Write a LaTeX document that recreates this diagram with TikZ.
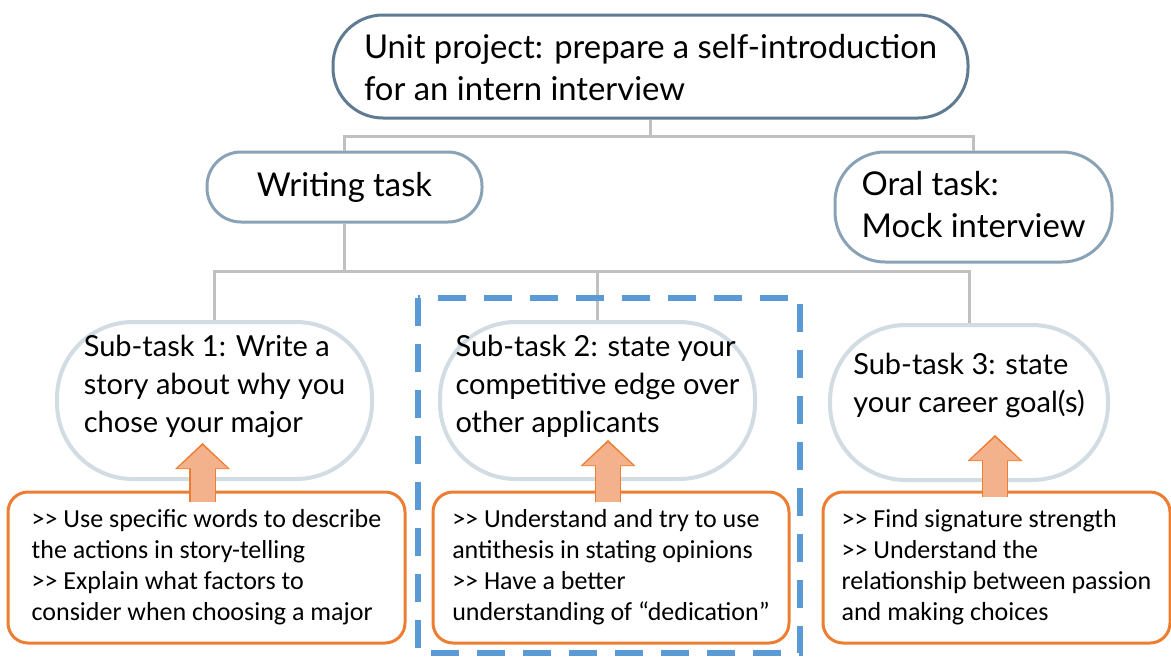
\documentclass[tikz,border=0pt]{standalone}
\usepackage{fontspec}
\setmainfont{Lato}
\newfontfamily\notefont{Carlito}
\usetikzlibrary{positioning,calc,arrows.meta}

\definecolor{topline}{RGB}{95,123,147}
\definecolor{midline}{RGB}{138,162,181}
\definecolor{subline}{RGB}{210,220,227}
\definecolor{linkgray}{RGB}{192,192,192}
\definecolor{noteorange}{RGB}{237,125,49}
\definecolor{arrowfill}{RGB}{244,178,140}
\definecolor{frameblue}{RGB}{91,155,213}

\begin{document}
\begin{tikzpicture}[x=0.5pt, y=-0.5pt,
  task/.style={draw=midline, line width=1.5pt, fill=white, align=left,
    rounded corners=17pt, inner ysep=0pt, font=\fontsize{16.4}{21}\selectfont},
  subtask/.style={draw=subline, line width=2pt, fill=white, align=left,
    rounded corners=38pt, inner ysep=0pt, font=\fontsize{14.5}{19}\selectfont},
  note/.style={draw=noteorange, line width=1.5pt, fill=white, align=left,
    rounded corners=10pt, minimum height=75.5pt, font=\notefont\fontsize{13}{15.5}\selectfont},
  link/.style={draw=linkgray, line width=1.5pt},
  fat/.style={draw=arrowfill, line width=12pt, shorten >=1.2pt,
    -{Triangle[width=25pt, length=11.5pt, line width=0pt]},
    preaction={draw=noteorange, line width=13.2pt, shorten >=0pt,
      -{Triangle[width=27.5pt, length=13pt, line width=0pt]}}},
  frame/.style={draw=frameblue, line width=3pt, dash pattern=on 14pt off 9pt}
]
  \useasboundingbox (0,0) rectangle (1171,659);

  % Define nodes
  \node[task, draw=topline, rounded corners=25pt, minimum width=317.5pt,
    text height=42.5pt, text depth=9pt] (unit) at (650.5,66.5)
    {Unit project: prepare a self-introduction\\for an intern interview};
  \node[task, minimum width=137.5pt, minimum height=35pt] (wt) at (344.5,187) {Writing task};
  \node[task, rounded corners=25pt, minimum width=138.5pt,
    text height=42.5pt, text depth=12.5pt] (ot) at (973.5,207) {Oral task:\\Mock interview};

  \node[subtask, minimum width=157.5pt, text height=55pt, text depth=23.5pt] (st1) at (214.5,400.5)
    {Sub-task 1: Write a\\story about why you\\chose your major};
  \node[subtask, minimum width=157.5pt, text height=55pt, text depth=23.5pt] (st2) at (597.5,400.5)
    {Sub-task 2: state your\\competitive edge over\\other applicants};
  \node[subtask, minimum width=139pt, text height=43.5pt, text depth=34pt] (st3) at (969,402.5)
    {Sub-task 3: state\\your career goal(s)};

  \node[note, minimum width=198.5pt] (b1) at (206.5,567.5)
    {>{}> Use specific words to describe\\the actions in story-telling\\>{}> Explain what factors to\\consider when choosing a major};
  \node[note, minimum width=178pt] (b2) at (611,567.5)
    {>{}> Understand and try to use\\antithesis in stating opinions\\>{}> Have a better\\understanding of “dedication”};
  \node[note, minimum width=173.5pt] (b3) at (996.5,567.5)
    {>{}> Find signature strength\\>{}> Understand the\\relationship between passion\\and making choices};

  % Connect the nodes
  \draw[link] (unit.south) -- ++(0,17) -| (wt.north);
  \draw[link] (unit.south) -- ++(0,17) -| (ot.north);
  \draw[link] (wt.south) -- ++(0,48) -| (st1.north);
  \draw[link] (wt.south) -- ++(0,48) -| (st2.north);
  \draw[link] (wt.south) -- ++(0,48) -| (st3.north);

  \draw[fat] ($(b1.north)+(-4,11)$) -- ($(b1.north |- st1.south)+(-4,-38)$);
  \draw[fat] ($(b2.north)+(-3,11)$) -- ($(b2.north |- st2.south)+(-3,-41)$);
  \draw[fat] ($(b3.north)+(-1.5,6)$) -- ($(b3.north |- st3.south)+(-1.5,-47)$);

  \draw[frame] (418,298) rectangle (800,653);

\end{tikzpicture}
\end{document}
